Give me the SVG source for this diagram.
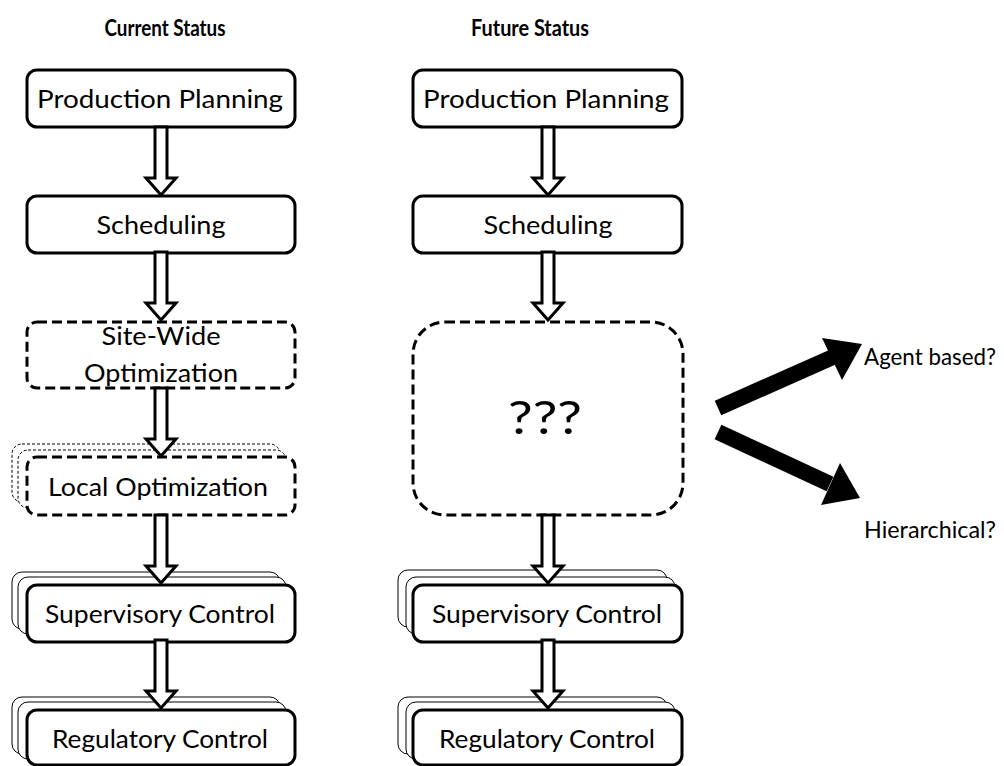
<svg xmlns="http://www.w3.org/2000/svg" width="1004" height="766" viewBox="0 0 1004 766">
  <style>
    .box { fill: #fff; stroke: #000; stroke-width: 3; }
    .dash { fill: #fff; stroke: #000; stroke-width: 3; stroke-dasharray: 10 5; }
    .back { fill: #fff; stroke: #000; stroke-width: 1; }
    .backdot { fill: #fff; stroke: #000; stroke-width: 1; stroke-dasharray: 3 2; }
    .lbl { font-family: Lato, "Liberation Sans", sans-serif; font-size: 25px; fill: #000; text-anchor: middle; }
    .side { font-family: Lato, "Liberation Sans", sans-serif; font-size: 24px; fill: #000; }
    .hdr { font-family: Lato, "Liberation Sans", sans-serif; font-size: 22px; font-weight: bold; fill: #000; text-anchor: middle; }
    .flow { fill: #fff; stroke: #000; stroke-width: 3; stroke-linejoin: miter; }
  </style>
  <defs>
    <!-- hollow block arrow, pointing down, tip at (0,0) -->
    <path id="blk" d="M -6 -68 L 6 -68 L 6 -17 L 15 -17 L 0 0 L -15 -17 L -6 -17 Z"/>
  </defs>
  <rect width="1004" height="766" fill="#fff"/>

  <text class="hdr" x="165" y="36" textLength="121" lengthAdjust="spacingAndGlyphs">Current Status</text>
  <text class="hdr" x="530" y="36" textLength="118" lengthAdjust="spacingAndGlyphs">Future Status</text>

  <!-- left column -->
  <g id="cur-planning">
    <rect class="box" x="27" y="70" width="268" height="57" rx="10"/>
    <text class="lbl" x="160" y="108" textLength="246" lengthAdjust="spacingAndGlyphs">Production Planning</text>
  </g>
  <g id="cur-scheduling">
    <rect class="box" x="27" y="196" width="268" height="57" rx="10"/>
    <text class="lbl" x="161" y="234" textLength="129" lengthAdjust="spacingAndGlyphs">Scheduling</text>
  </g>
  <g id="cur-sitewide">
    <rect class="dash" x="27" y="322" width="268" height="66" rx="10"/>
    <text class="lbl" x="161" y="345" textLength="119" lengthAdjust="spacingAndGlyphs">Site-Wide</text>
    <text class="lbl" x="161" y="382" textLength="154" lengthAdjust="spacingAndGlyphs">Optimization</text>
  </g>
  <g id="cur-local">
    <rect class="backdot" x="12" y="444" width="268" height="58" rx="10"/>
    <rect class="backdot" x="18" y="450" width="268" height="58" rx="10"/>
    <rect class="dash" x="27" y="457" width="268" height="58" rx="10"/>
    <text class="lbl" x="158" y="496" textLength="220" lengthAdjust="spacingAndGlyphs">Local Optimization</text>
  </g>
  <g id="cur-supervisory">
    <rect class="back" x="12" y="572" width="268" height="57" rx="10"/>
    <rect class="back" x="18" y="577" width="268" height="57" rx="10"/>
    <rect class="box" x="27" y="585" width="268" height="57" rx="10"/>
    <text class="lbl" x="160" y="623" textLength="230" lengthAdjust="spacingAndGlyphs">Supervisory Control</text>
  </g>
  <g id="cur-regulatory">
    <rect class="back" x="12" y="697" width="268" height="57" rx="10"/>
    <rect class="back" x="18" y="702" width="268" height="57" rx="10"/>
    <rect class="box" x="27" y="710" width="268" height="55" rx="10"/>
    <text class="lbl" x="160" y="748" textLength="216" lengthAdjust="spacingAndGlyphs">Regulatory Control</text>
  </g>

  <!-- right column -->
  <g id="fut-planning">
    <rect class="box" x="413" y="70" width="269" height="57" rx="10"/>
    <text class="lbl" x="546" y="108" textLength="246" lengthAdjust="spacingAndGlyphs">Production Planning</text>
  </g>
  <g id="fut-scheduling">
    <rect class="box" x="413" y="196" width="269" height="57" rx="10"/>
    <text class="lbl" x="548" y="234" textLength="129" lengthAdjust="spacingAndGlyphs">Scheduling</text>
  </g>
  <g id="fut-unknown">
    <rect class="dash" x="413" y="322" width="270" height="193" rx="32"/>
    <text class="lbl" x="545" y="434" style="font-size:46px" textLength="74" lengthAdjust="spacingAndGlyphs">???</text>
  </g>
  <g id="fut-supervisory">
    <rect class="back" x="398" y="570" width="269" height="57" rx="10"/>
    <rect class="back" x="406" y="577" width="269" height="57" rx="10"/>
    <rect class="box" x="413" y="585" width="269" height="57" rx="10"/>
    <text class="lbl" x="547" y="623" textLength="230" lengthAdjust="spacingAndGlyphs">Supervisory Control</text>
  </g>
  <g id="fut-regulatory">
    <rect class="back" x="398" y="697" width="269" height="57" rx="10"/>
    <rect class="back" x="406" y="702" width="269" height="57" rx="10"/>
    <rect class="box" x="413" y="710" width="269" height="55" rx="10"/>
    <text class="lbl" x="547" y="748" textLength="216" lengthAdjust="spacingAndGlyphs">Regulatory Control</text>
  </g>

  <g id="agent">
    <text class="side" x="864" y="365" textLength="132" lengthAdjust="spacingAndGlyphs">Agent based?</text>
  </g>
  <g id="hier">
    <text class="side" x="864" y="538" textLength="132" lengthAdjust="spacingAndGlyphs">Hierarchical?</text>
  </g>

  <!-- connectors -->
  <g id="connectors">
    <use href="#blk" class="flow" x="161" y="195"/>
    <use href="#blk" class="flow" x="161" y="320"/>
    <use href="#blk" class="flow" x="161" y="456"/>
    <use href="#blk" class="flow" x="161" y="583"/>
    <use href="#blk" class="flow" x="161" y="708"/>

    <use href="#blk" class="flow" x="548" y="195"/>
    <use href="#blk" class="flow" x="548" y="320"/>
    <use href="#blk" class="flow" x="548" y="583"/>
    <use href="#blk" class="flow" x="548" y="708"/>

    <!-- solid branch arrows -->
    <path d="M 718 408 L 833 357" stroke="#000" stroke-width="16" fill="none"/>
    <polygon points="862,344 822,338 842,380" fill="#000"/>
    <path d="M 718 432 L 830 484" stroke="#000" stroke-width="16" fill="none"/>
    <polygon points="860,498 821,505 840,463" fill="#000"/>
  </g>
</svg>
